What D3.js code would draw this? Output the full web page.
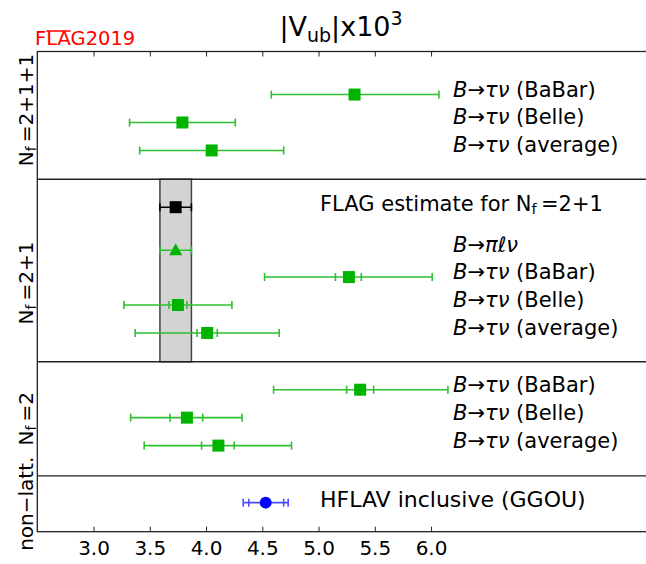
<!DOCTYPE html>
<html>
<head>
<meta charset="utf-8">
<script src="https://cdn.jsdelivr.net/npm/d3@7"></script>
<style>
  body { margin: 0; background: #fff; }
  svg { display: block; font-family: "DejaVu Sans", sans-serif; }
</style>
</head>
<body>
<svg id="chart" width="646" height="564"></svg>
<script>
// ---------------- data ----------------
const sectionNames = ["2+1+1", "2+1", "2", "non\u2212latt."];
const rowSection   = [0, 0, 0, 1, 1, 1, 1, 1, 2, 2, 2, 3];
const rowLabels = [
  "B\u2192\u03c4\u03bd (BaBar)", "B\u2192\u03c4\u03bd (Belle)", "B\u2192\u03c4\u03bd (average)",
  "FLAG estimate for", "B\u2192\u03c0\u2113\u03bd",
  "B\u2192\u03c4\u03bd (BaBar)", "B\u2192\u03c4\u03bd (Belle)", "B\u2192\u03c4\u03bd (average)",
  "B\u2192\u03c4\u03bd (BaBar)", "B\u2192\u03c4\u03bd (Belle)", "B\u2192\u03c4\u03bd (average)",
  "HFLAV inclusive (GGOU)"
];
const rowKind   = ["sq","sq","sq","flag","tri","sq","sq","sq","sq","sq","sq","circ"];
const rowSlot   = [1.54, 2.54, 3.54, 5.57, 7.11, 8.07, 9.07, 10.07, 12.1, 13.1, 14.1, 16.14];
const sectionEdges = [0, 4.57, 11.1, 15.18, 17.18];
const vubValues = [5.32, 3.79, 4.05, 3.73, 3.73, 5.27, 3.75, 4.01, 5.37, 3.83, 4.11, 4.53];
const totLow    = [4.58, 3.32, 3.41, 3.59, 3.59, 4.52, 3.27, 3.37, 4.60, 3.33, 3.45, 4.33];
const totHigh   = [6.07, 4.26, 4.69, 3.87, 3.87, 6.01, 4.23, 4.65, 6.15, 4.32, 4.76, 4.73];
const statLow   = [null, null, null, null, null, 5.15, 3.67, 3.92, 5.25, 3.68, 3.96, 4.38];
const statHigh  = [null, null, null, null, null, 5.38, 3.83, 4.10, 5.49, 3.97, 4.25, 4.69];
const flagBand  = [3.59, 3.87];
const xTicks    = [3.0, 3.5, 4.0, 4.5, 5.0, 5.5, 6.0];

// ---------------- layout ----------------
const svg = d3.select("#chart");
const L = 37.3, T = 51.5, B = 531.7;
const x = d3.scaleLinear().domain([2.5, 8.0]).range([L, L + 5.5 * 112.5]);
const y = d3.scaleLinear().domain([0, 17.18]).range([T, B]);
const green = "#00b400", greenBar = "#2fbf2f";

// flag band
svg.append("rect")
  .attr("x", x(flagBand[0])).attr("width", x(flagBand[1]) - x(flagBand[0]))
  .attr("y", y(sectionEdges[1])).attr("height", y(sectionEdges[2]) - y(sectionEdges[1]))
  .attr("fill", "#d3d3d3").attr("stroke", "#444").attr("stroke-width", 1.5);

// frame
svg.append("rect").attr("x", L).attr("y", T).attr("width", 700).attr("height", B - T)
  .attr("fill", "none").attr("stroke", "#222").attr("stroke-width", 1.3);
// separators
sectionEdges.slice(1, 4).forEach(e => {
  svg.append("line").attr("x1", L).attr("x2", 646).attr("y1", y(e)).attr("y2", y(e))
    .attr("stroke", "#222").attr("stroke-width", 1.3);
});

// x axis (bottom) with inward ticks
const axB = d3.axisBottom(x).tickValues(xTicks).tickFormat(d3.format(".1f")).tickSizeInner(-5).tickSizeOuter(0).tickPadding(9);
const gB = svg.append("g").attr("transform", `translate(0,${B})`).call(axB);
gB.select(".domain").remove();
gB.selectAll("line").attr("stroke", "#222").attr("stroke-width", 1);
gB.selectAll("text").attr("font-size", 20).attr("font-family", "DejaVu Sans").attr("fill", "#000");
const axT = d3.axisTop(x).tickValues(xTicks).tickFormat("").tickSizeInner(-5).tickSizeOuter(0);
const gT = svg.append("g").attr("transform", `translate(0,${T})`).call(axT);
gT.select(".domain").remove();
gT.selectAll("line").attr("stroke", "#222").attr("stroke-width", 1);

// error bars
const rows = d3.range(vubValues.length);
const colorOf = i => rowKind[i] === "flag" ? "#000" : (rowKind[i] === "circ" ? "#4d4dff" : greenBar);
const capH = 4;
rows.forEach(i => {
  const yy = y(rowSlot[i]);
  const c = colorOf(i);
  const g = svg.append("g").attr("stroke", c).attr("stroke-width", 1.6);
  g.append("line").attr("x1", x(totLow[i])).attr("x2", x(totHigh[i])).attr("y1", yy).attr("y2", yy);
  [totLow[i], totHigh[i], statLow[i], statHigh[i]].forEach(v => {
    if (v == null) return;
    g.append("line").attr("x1", x(v)).attr("x2", x(v)).attr("y1", yy - capH).attr("y2", yy + capH);
  });
});

// markers
rows.forEach(i => {
  const cx = x(vubValues[i]), cy = y(rowSlot[i]);
  const k = rowKind[i];
  if (k === "sq" || k === "flag") {
    svg.append("rect").attr("x", cx - 6).attr("y", cy - 6).attr("width", 12).attr("height", 12)
      .attr("fill", k === "flag" ? "#000" : green);
  } else if (k === "tri") {
    svg.append("path").attr("d", `M${cx},${cy - 7} L${cx + 6.5},${cy + 5} L${cx - 6.5},${cy + 5} Z`).attr("fill", green);
  } else {
    svg.append("circle").attr("cx", cx).attr("cy", cy).attr("r", 6).attr("fill", "#0000ff");
  }
});

// row labels
function addNf(t, rest, size) {
  t.append("tspan").text("N");
  t.append("tspan").text("f").attr("font-size", size * 0.7).attr("dy", size * 0.15);
  t.append("tspan").text("\u2009=" + rest).attr("dy", -size * 0.15);
}
rows.forEach(i => {
  const lab = rowLabels[i];
  const big = (rowKind[i] === "flag" || rowKind[i] === "circ");
  const yy = y(rowSlot[i]) + (big ? 4 : 2);
  const t = svg.append("text").attr("x", big ? 320 : 453).attr("y", yy)
    .attr("font-size", 21).attr("fill", "#000");
  if (lab.startsWith("B\u2192")) {
    const rest = lab.slice(2);
    const sp = rest.indexOf(" ");
    const greek = sp < 0 ? rest : rest.slice(0, sp);
    const tail = sp < 0 ? "" : rest.slice(sp);
    t.append("tspan").text("B").attr("font-style", "italic");
    t.append("tspan").text("\u2192");
    t.append("tspan").text(greek).attr("font-style", "italic");
    if (tail) t.append("tspan").text(tail);
  } else if (rowKind[i] === "flag") {
    t.text(lab + " ");
    addNf(t, "2+1", 21);
  } else {
    t.text(lab).attr("font-size", 22);
  }
});

// section labels (rotated)
const secCenters = [110, 283, (y(sectionEdges[2]) + y(sectionEdges[3])) / 2, (y(sectionEdges[3]) + y(sectionEdges[4])) / 2];
sectionNames.forEach((s, j) => {
  const t = svg.append("text").attr("transform", `translate(33,${secCenters[j]}) rotate(-90)`)
    .attr("text-anchor", "middle").attr("font-size", 20).attr("fill", "#000");
  if (j < 3) {
    addNf(t, s, 20);
  } else {
    t.text(s);
  }
});

// title
const title = svg.append("text").attr("x", 341).attr("y", 36).attr("text-anchor", "middle")
  .attr("font-size", 27).attr("fill", "#000");
title.append("tspan").text("|V");
title.append("tspan").text("ub").attr("font-size", 19).attr("dy", 6);
title.append("tspan").text("|x10").attr("dy", -6);
title.append("tspan").text("3").attr("font-size", 19).attr("dy", -11);

// FLAG logo
const logo = svg.append("text").attr("x", 35).attr("y", 45).attr("font-size", 19.5).attr("fill", "#ff0000")
  .text("FLAG2019");
const n = logo.node();
const x1 = 35 + n.getSubStringLength(0, 1);
const x2 = 35 + n.getSubStringLength(0, 3);
svg.append("line").attr("x1", x1).attr("x2", x2).attr("y1", 31).attr("y2", 31)
  .attr("stroke", "#ff0000").attr("stroke-width", 1.5);
</script>
</body>
</html>
